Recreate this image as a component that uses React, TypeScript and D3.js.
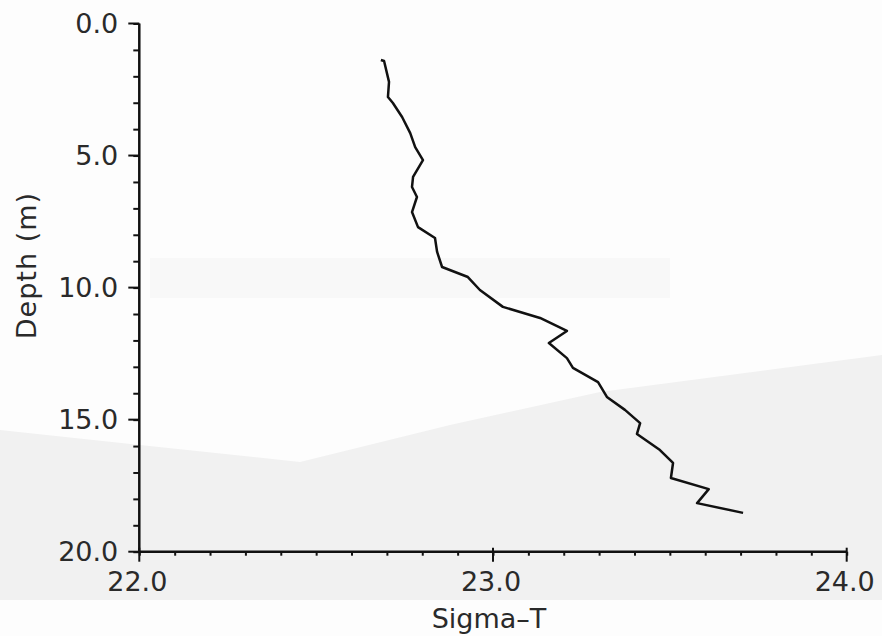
import * as React from 'react'
import { useEffect, useRef } from 'react'
import * as d3 from 'd3'

// profile
const sigmaT = [22.683, 22.692, 22.706, 22.703, 22.717, 22.743, 22.766, 22.780, 22.802, 22.774, 22.771, 22.785,
  22.771, 22.788, 22.836, 22.842, 22.856, 22.929, 22.963, 23.028, 23.133, 23.209, 23.158, 23.209, 23.226,
  23.297, 23.322, 23.373, 23.416, 23.407, 23.472, 23.509, 23.503, 23.610, 23.577, 23.707]
const depth = [1.38, 1.42, 2.21, 2.78, 3.01, 3.54, 4.15, 4.68, 5.17, 5.81, 6.19, 6.57,
  7.14, 7.71, 8.12, 8.65, 9.22, 9.60, 10.09, 10.73, 11.15, 11.64, 12.10, 12.67, 13.04,
  13.58, 14.14, 14.63, 15.13, 15.54, 16.15, 16.64, 17.21, 17.63, 18.16, 18.53]

const xMajor = [22, 23, 24]
const yMajor = [0, 5, 10, 15, 20]

const width = 882
const height = 636
const margin = { left: 139.3, right: 35.3, top: 23.5, bottom: 84.3 }

const App = () => {
  const chartRef = useRef(null)

  useEffect(() => {
    const svg = d3.select(chartRef.current)
    svg.selectAll('*').remove()

    const x = d3.scaleLinear().domain([22, 24]).range([margin.left, width - margin.right])
    const y = d3.scaleLinear().domain([0, 20]).range([margin.top, height - margin.bottom])

    svg.append('rect').attr('width', width).attr('height', height).attr('fill', '#fdfdfd')

    // faint scanned-paper shading
    svg.append('path')
      .attr('d', 'M0,600 L0,430 L140,445 L300,462 L450,425 L600,392 L882,355 L882,600 Z')
      .attr('fill', '#f1f1f1')
    svg.append('rect').attr('x', 150).attr('y', 258).attr('width', 520).attr('height', 40)
      .attr('fill', '#f8f8f8')

    const font = "'DejaVu Sans', 'Liberation Sans', sans-serif"
    const ink = '#2a2a2a'

    // y axis
    const yAxis = svg.append('g').attr('transform', `translate(${margin.left},0)`)
    yAxis.call(d3.axisLeft(y).tickValues(d3.range(0, 21, 1)).tickSize(6).tickFormat(() => ''))
    yAxis.selectAll('.tick line').attr('stroke', '#111').attr('stroke-width', 2)
    yAxis.select('.domain').remove()
    yAxis.append('line').attr('y1', y(0)).attr('y2', y(20)).attr('stroke', '#111').attr('stroke-width', 2.5)
    yMajor.forEach((v) => {
      yAxis.append('line').attr('x1', -11).attr('x2', 0).attr('y1', y(v)).attr('y2', y(v))
        .attr('stroke', '#111').attr('stroke-width', 2)
      yAxis.append('text').attr('x', -21).attr('y', y(v)).attr('dy', '0.36em')
        .attr('text-anchor', 'end').style('font-family', font).style('font-size', '27px')
        .attr('fill', ink).text(d3.format('.1f')(v))
    })

    // x axis
    const xAxis = svg.append('g').attr('transform', `translate(0,${y(20)})`)
    xAxis.call(d3.axisBottom(x).tickValues(d3.range(22, 24.001, 0.1)).tickSize(4).tickFormat(() => ''))
    xAxis.selectAll('.tick line').attr('stroke', '#111').attr('stroke-width', 2)
    xAxis.select('.domain').remove()
    xAxis.append('line').attr('x1', x(22)).attr('x2', x(24)).attr('stroke', '#111').attr('stroke-width', 2.5)
    xMajor.forEach((v) => {
      xAxis.append('line').attr('x1', x(v)).attr('x2', x(v)).attr('y1', -4).attr('y2', 10)
        .attr('stroke', '#111').attr('stroke-width', 2)
      xAxis.append('text').attr('x', x(v) - 2).attr('y', 39)
        .attr('text-anchor', 'middle').style('font-family', font).style('font-size', '27px')
        .attr('fill', ink).text(d3.format('.1f')(v))
    })

    svg.append('text').attr('x', 489).attr('y', 628).attr('text-anchor', 'middle')
      .style('font-family', font).style('font-size', '27px').attr('fill', ink).text('Sigma\u2013T')

    svg.append('text').attr('transform', `translate(36,${(y(0) + y(20)) / 2 - 22}) rotate(-90)`)
      .attr('text-anchor', 'middle').style('font-family', font).style('font-size', '27px')
      .style('letter-spacing', '1px').attr('fill', ink).text('Depth (m)')

    const line = d3.line<number>().x((d, i) => x(sigmaT[i])).y((d, i) => y(depth[i]))
    svg.append('path').datum(depth).attr('d', line).attr('fill', 'none')
      .attr('stroke', '#111').attr('stroke-width', 2.5).attr('stroke-linejoin', 'round')
  }, [])

  return (
    <svg ref={chartRef} width={width} height={height}
      style={{ position: 'absolute', left: 0, top: 0 }}></svg>
  )
}

export default App
